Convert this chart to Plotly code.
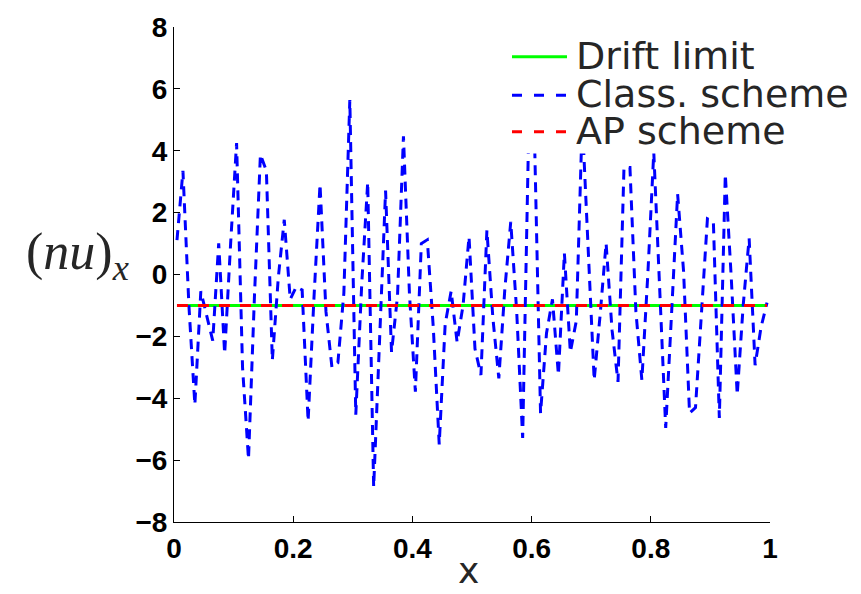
import plotly.graph_objects as go

# ---------------- data ----------------
x_grid = [0.005, 0.015, 0.025, 0.035, 0.045, 0.055, 0.065, 0.075, 0.085, 0.095,
          0.105, 0.115, 0.125, 0.135, 0.145, 0.155, 0.165, 0.175, 0.185, 0.195,
          0.205, 0.215, 0.225, 0.235, 0.245, 0.255, 0.265, 0.275, 0.285, 0.295,
          0.305, 0.315, 0.325, 0.335, 0.345, 0.355, 0.365, 0.375, 0.385, 0.395,
          0.405, 0.415, 0.425, 0.435, 0.445, 0.455, 0.465, 0.475, 0.485, 0.495,
          0.505, 0.515, 0.525, 0.535, 0.545, 0.555, 0.565, 0.575, 0.585, 0.595,
          0.605, 0.615, 0.625, 0.635, 0.645, 0.655, 0.665, 0.675, 0.685, 0.695,
          0.705, 0.715, 0.725, 0.735, 0.745, 0.755, 0.765, 0.775, 0.785, 0.795,
          0.805, 0.815, 0.825, 0.835, 0.845, 0.855, 0.865, 0.875, 0.885, 0.895,
          0.905, 0.915, 0.925, 0.935, 0.945, 0.955, 0.965, 0.975, 0.985, 0.995]

class_scheme = [1.11, 3.35, -1.0, -4.21, -0.54, -1.39, -2.14, 1.01, -2.56, 1.0,
                4.25, -3.0, -5.97, -0.7, 3.88, 3.35, -2.77, -0.1, 1.77, -0.8,
                -0.4, -0.5, -4.74, -0.7, 2.92, -1.2, -3.0, -2.85, -0.6, 5.64,
                -4.53, -0.3, 2.98, -6.87, -2.3, 2.71, -2.51, -0.7, 4.47, -0.6,
                -3.79, 1.0, 1.12, -1.7, -5.49, -1.6, -0.54, -2.19, -1.0, 1.22,
                -2.4, -3.25, 1.43, -1.4, -3.36, -0.5, 1.70, -1.2, -5.28, 4.5,
                4.3, -4.48, -1.9, -0.80, -3.25, 0.69, -2.51, -1.5, 5.0, 1.0,
                -3.41, -1.3, 1.01, -1.8, -3.47, 3.46, 3.46, -1.2, -3.41, 0.0,
                3.95, -0.5, -4.96, -1.2, 2.60, 0.1, -4.48, -4.3, -1.2, 1.80,
                1.70, -4.64, 3.24, -0.1, -3.89, -1.0, 1.17, -2.93, -1.7, -0.91]

x_limit = [0.005, 0.995]
drift_limit = [-1.0, -1.0]
ap_scheme = [-1.0, -1.0]

x_ticks = [0, 0.2, 0.4, 0.6, 0.8, 1]
x_tick_text = ["0", "0.2", "0.4", "0.6", "0.8", "1"]
y_ticks = [-8, -6, -4, -2, 0, 2, 4, 6, 8]
y_tick_text = ["\u22128", "\u22126", "\u22124", "\u22122", "0", "2", "4", "6", "8"]

series_names = ["Drift limit", "Class.\u00a0scheme", "AP scheme"]
series_colors = ["#00ff00", "#0000ff", "#ff0000"]

# ---------------- figure ----------------
fig = go.Figure()
fig.add_trace(go.Scatter(x=x_limit, y=drift_limit, mode="lines",
                         line=dict(color=series_colors[0], width=3), name=series_names[0]))
fig.add_trace(go.Scatter(x=x_grid, y=class_scheme, mode="lines",
                         line=dict(color=series_colors[1], width=3, dash="10px,7px"),
                         name=series_names[1]))
fig.add_trace(go.Scatter(x=x_limit, y=ap_scheme, mode="lines",
                         line=dict(color=series_colors[2], width=3, dash="11px,10px"),
                         name=series_names[2]))

W, H = 861, 594
L, R, T, B = 174, 91, 21, 72
pw, ph = W - L - R, H - T - B


def px_x(px):
    return (px - L) / pw


def px_y(py):
    return (H - B - py) / ph


tick_font = dict(family="Liberation Sans", size=28, color="black", weight="bold")

fig.update_layout(
    width=W, height=H,
    margin=dict(l=L, r=R, t=T, b=B),
    plot_bgcolor="white", paper_bgcolor="white",
    showlegend=False,
    xaxis=dict(range=[0, 1], tickvals=x_ticks, ticktext=x_tick_text,
               ticks="inside", ticklen=6, tickcolor="black", tickwidth=1,
               showline=True, linecolor="black", linewidth=1,
               showgrid=False, zeroline=False, tickfont=tick_font,
               ticklabelstandoff=1),
    yaxis=dict(range=[-8, 8], tickvals=y_ticks, ticktext=y_tick_text,
               ticks="inside", ticklen=6, tickcolor="black", tickwidth=1,
               showline=True, linecolor="black", linewidth=1,
               showgrid=False, zeroline=False, tickfont=tick_font),
)

# manual legend (white box above the lines)
shapes = [dict(type="rect", xref="paper", yref="paper",
               x0=px_x(505), x1=px_x(858), y0=px_y(149), y1=px_y(19),
               fillcolor="white", line=dict(width=0), layer="above")]
row_line_y = [51, 90, 127]
row_text_y = [50, 89, 126.5]
dashes = ["solid", "10px,12px", "10px,12px"]
for i in range(3):
    shapes.append(dict(type="line", xref="paper", yref="paper",
                       x0=px_x(512), x1=px_x(567), y0=px_y(row_line_y[i]), y1=px_y(row_line_y[i]),
                       line=dict(color=series_colors[i], width=3, dash=dashes[i]), layer="above"))
fig.update_layout(shapes=shapes)

annotations = []
for i in range(3):
    annotations.append(dict(xref="paper", yref="paper", x=px_x(574), y=px_y(row_text_y[i]),
                            xanchor="left", yanchor="middle", showarrow=False,
                            height=36, valign="middle",
                            text=series_names[i],
                            font=dict(family="DejaVu Sans", size=38, color="#262626")))
annotations.append(dict(xref="paper", yref="paper", x=px_x(468), y=px_y(594),
                        xanchor="center", yanchor="bottom", showarrow=False, text="x",
                        font=dict(family="DejaVu Sans", size=36, color="#262626")))
annotations.append(dict(xref="paper", yref="paper", x=px_x(77), y=px_y(252),
                        xanchor="center", yanchor="middle", showarrow=False,
                        text="(<i>nu</i>)<sub><i>x</i></sub>",
                        font=dict(family="Liberation Serif", size=52, color="#262626")))
fig.update_layout(annotations=annotations)

fig.write_html("out.html")
